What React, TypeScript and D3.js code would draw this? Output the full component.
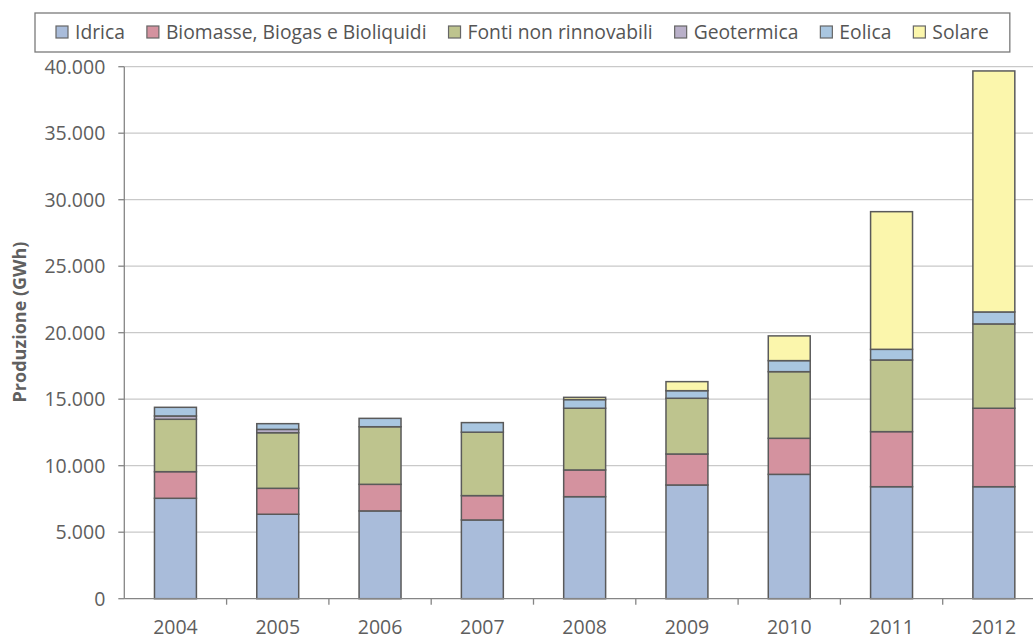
import React, { useEffect, useRef } from 'react';
import * as d3 from 'd3';

const years = ['2004', '2005', '2006', '2007', '2008', '2009', '2010', '2011', '2012'];
const seriesNames = ['Idrica', 'Biomasse, Biogas e Bioliquidi', 'Fonti non rinnovabili', 'Geotermica', 'Eolica', 'Solare'];
const idrica = [7550, 6350, 6600, 5920, 7670, 8550, 9350, 8420, 8420];
const biomasse = [2000, 1950, 2000, 1830, 2010, 2330, 2710, 4140, 5900];
const fonti = [3940, 4180, 4330, 4770, 4640, 4190, 5010, 5390, 6340];
const geotermica = [250, 250, 0, 0, 0, 0, 0, 0, 0];
const eolica = [650, 430, 630, 720, 650, 570, 830, 800, 900];
const solare = [0, 0, 0, 0, 170, 680, 1860, 10350, 18120];
const yTicks = [0, 5000, 10000, 15000, 20000, 25000, 30000, 35000, 40000];
const colors = ['#A9BCDA', '#D4929F', '#BEC48E', '#B9B0C9', '#A9C6E0', '#FBF6AC'];

const W = 1033;
const H = 639;
const FONT = "'Open Sans', sans-serif";

export default function App() {
  const ref = useRef<SVGSVGElement | null>(null);

  useEffect(() => {
    const svg = d3.select(ref.current);
    svg.selectAll('*').remove();

    const values = [idrica, biomasse, fonti, geotermica, eolica, solare];
    const rows = years.map((y, i) => {
      const r: any = { year: y };
      seriesNames.forEach((s, k) => (r[s] = values[k][i]));
      return r;
    });
    const stacked = d3.stack().keys(seriesNames)(rows);

    const x = d3.scaleBand().domain(years).range([124.3, 1045]).paddingInner(0.59).paddingOuter(0.295);
    const y = d3.scaleLinear().domain([0, 40000]).range([598.7, 66.7]);
    const loc = d3.formatLocale({ decimal: ',', thousands: '.', grouping: [3], currency: ['', ''] });
    const fmt = loc.format(',');

    // gridlines
    svg.append('g').selectAll('line').data(yTicks.filter((t) => t > 0)).join('line')
      .attr('x1', x.range()[0]).attr('x2', W)
      .attr('y1', (d) => y(d)).attr('y2', (d) => y(d))
      .attr('stroke', '#C9C9C9').attr('stroke-width', 1.2);

    // bars
    const g = svg.append('g');
    stacked.forEach((layer, k) => {
      g.append('g').selectAll('rect').data(layer.filter((d) => d[1] - d[0] > 0)).join('rect')
        .attr('x', (d: any) => x(d.data.year)!)
        .attr('width', x.bandwidth())
        .attr('y', (d) => y(d[1]))
        .attr('height', (d) => y(d[0]) - y(d[1]))
        .attr('fill', colors[k])
        .attr('stroke', '#5A5A5A').attr('stroke-width', 1.5);
    });

    // y axis
    const x0 = x.range()[0];
    svg.append('line').attr('x1', x0).attr('x2', x0).attr('y1', y(40000)).attr('y2', y(0))
      .attr('stroke', '#858585').attr('stroke-width', 1.3);
    svg.append('g').selectAll('line').data(yTicks).join('line')
      .attr('x1', x0 - 6).attr('x2', x0).attr('y1', (d) => y(d)).attr('y2', (d) => y(d))
      .attr('stroke', '#858585').attr('stroke-width', 1.3);
    svg.append('g').selectAll('text').data(yTicks).join('text')
      .attr('x', x0 - 19).attr('y', (d) => y(d)).attr('dy', '0.36em')
      .attr('text-anchor', 'end').attr('font-family', FONT).attr('font-size', 19.5)
      .attr('fill', '#5E5E5E').text((d) => fmt(d));

    // x axis
    svg.append('line').attr('x1', x0).attr('x2', W).attr('y1', y(0)).attr('y2', y(0))
      .attr('stroke', '#858585').attr('stroke-width', 1.3);
    const bounds = years.slice(1).map((yr) => x(yr)! - (x.step() - x.bandwidth()) / 2);
    svg.append('g').selectAll('line').data(bounds).join('line')
      .attr('x1', (d) => d).attr('x2', (d) => d).attr('y1', y(0)).attr('y2', y(0) + 6)
      .attr('stroke', '#858585').attr('stroke-width', 1.3);
    svg.append('g').selectAll('text').data(years).join('text')
      .attr('x', (d) => x(d)! + x.bandwidth() / 2).attr('y', 634)
      .attr('text-anchor', 'middle').attr('font-family', FONT).attr('font-size', 19.5)
      .attr('fill', '#5E5E5E').text((d) => d);

    // y title
    svg.append('text')
      .attr('transform', `translate(26,322) rotate(-90)`)
      .attr('text-anchor', 'middle').attr('font-family', FONT).attr('font-size', 18)
      .attr('font-weight', 'bold').attr('fill', '#606060').text('Produzione (GWh)');

    // legend
    const lg = svg.append('g');
    const box = lg.append('rect').attr('fill', 'white').attr('stroke', '#7A7A7A').attr('stroke-width', 1.3);
    let cx = 56;
    const cy = 32;
    seriesNames.forEach((s, k) => {
      lg.append('rect').attr('x', cx).attr('y', cy - 6).attr('width', 12).attr('height', 12)
        .attr('fill', colors[k]).attr('stroke', '#666').attr('stroke-width', 1.2);
      const t = lg.append('text').attr('x', cx + 19).attr('y', cy).attr('dy', '0.36em')
        .attr('font-family', FONT).attr('font-size', 19.3).attr('fill', '#555').text(s);
      const w = (t.node() as SVGTextElement).getComputedTextLength();
      cx += 19 + w + 22;
    });
    box.attr('x', 35).attr('y', 13).attr('width', cx - 22 + 21 - 35).attr('height', 39);
  }, []);

  return (
    <svg ref={ref} width={W} height={H} style={{ position: 'absolute', left: 0, top: 0, background: 'white' }} />
  );
}
